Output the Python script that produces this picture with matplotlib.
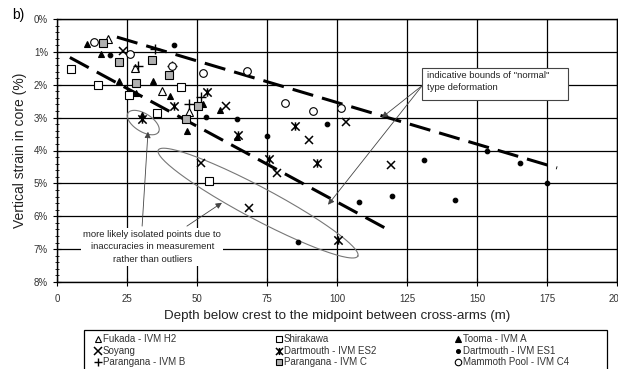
import numpy as np
import matplotlib.pyplot as plt
from matplotlib.path import Path
from matplotlib.lines import Line2D
from matplotlib.patches import Rectangle

plt.rcParams['font.family'] = ['Liberation Sans', 'DejaVu Sans']

# 各系列數據 (深度 m, 垂直應變 %)
fukada_x = [18.2, 27.9, 37.5, 47.1]
fukada_y = [0.61, 1.49, 2.19, 2.83]
shirakawa_x = [5, 14.6, 25.7, 35.7, 44.3, 54.4]
shirakawa_y = [1.52, 2.0, 2.31, 2.86, 2.07, 4.93]
tooma_x = [10.7, 15.7, 22.1, 28.2, 34.3, 40.4, 46.4, 52, 58.2, 64.4, 30.4]
tooma_y = [0.76, 1.06, 1.88, 2.25, 1.88, 2.34, 3.4, 2.6, 2.77, 3.6, 2.92]
soyang_x = [23.6, 60.4, 90, 103.2, 119.3, 78.6, 51.4, 68.6]
soyang_y = [0.97, 2.64, 3.68, 3.13, 4.44, 4.68, 4.38, 5.75]
es2_x = [30.4, 41.8, 53.6, 64.8, 85, 75.7, 92.8, 100.4]
es2_y = [3.05, 2.64, 2.22, 3.53, 3.25, 4.25, 4.38, 6.72]
es1_x = [18.9, 41.8, 53.2, 64.3, 75, 96.4, 108, 119.6, 131, 142, 153.6, 165.4, 175, 86]
es1_y = [1.09, 0.79, 2.98, 3.04, 3.56, 3.2, 5.57, 5.37, 4.3, 5.5, 4.0, 4.38, 5.0, 6.78]
parb_x = [29, 35, 41, 47.1, 51.4]
parb_y = [1.43, 0.91, 1.43, 2.6, 2.37]
parc_x = [16.4, 22.1, 28.2, 34, 40, 46, 50.4]
parc_y = [0.73, 1.31, 1.95, 1.25, 1.7, 3.04, 2.64]
mammoth_x = [13.2, 26, 41, 52.1, 67.9, 81.4, 91.4, 101.4]
mammoth_y = [0.7, 1.06, 1.43, 1.64, 1.58, 2.55, 2.8, 2.71]

# 界限虛線
upper_x = [21.4, 178.6]
upper_y = [0.55, 4.53]
lower_x = [4.6, 119.6]
lower_y = [1.17, 6.47]

x_ticks = [0, 25, 50, 75, 100, 125, 150, 175, 200]
y_ticks = [0, 1, 2, 3, 4, 5, 6, 7, 8]

# 星號 (X 加豎線)
star = Path([(0, -1), (0, 1), (-1, -1), (1, 1), (-1, 1), (1, -1)],
            [Path.MOVETO, Path.LINETO, Path.MOVETO, Path.LINETO, Path.MOVETO, Path.LINETO])

W, H = 618, 369
fig = plt.figure(figsize=(W / 100, H / 100), dpi=100)
ax = fig.add_axes([57 / W, 1 - 282 / H, 560 / W, 263 / H])

# 圖例按行排列: 名稱, 數據, 樣式
series = [
    ('Fukada - IVM H2', fukada_x, fukada_y, dict(marker='^', mfc='white', mec='black', ms=5.5, mew=0.8)),
    ('Shirakawa', shirakawa_x, shirakawa_y, dict(marker='s', mfc='white', mec='black', ms=5.5, mew=0.8)),
    ('Tooma - IVM A', tooma_x, tooma_y, dict(marker='^', mfc='black', mec='black', ms=5, mew=0.8)),
    ('Soyang', soyang_x, soyang_y, dict(marker='x', mec='black', ms=6, mew=1.1)),
    ('Dartmouth - IVM ES2', es2_x, es2_y, dict(marker=star, mec='black', ms=6, mew=1.1)),
    ('Dartmouth - IVM ES1', es1_x, es1_y, dict(marker='o', mfc='black', mec='black', ms=3.3, mew=0.8)),
    ('Parangana - IVM B', parb_x, parb_y, dict(marker='+', mec='black', ms=7, mew=1.0)),
    ('Parangana - IVM C', parc_x, parc_y, dict(marker='s', mfc='#b0b0b0', mec='black', ms=5.5, mew=0.8)),
    ('Mammoth Pool - IVM C4', mammoth_x, mammoth_y, dict(marker='o', mfc='white', mec='black', ms=5.5, mew=0.8)),
]

for name, xs, ys, st in series:
    ax.plot(xs, ys, linestyle='none', zorder=4, label=name, **st)

ax.plot(upper_x, upper_y, color='black', lw=2.2, dashes=(7, 3), zorder=3)
ax.plot(lower_x, lower_y, color='black', lw=2.2, dashes=(7, 3), zorder=3)

ax.set_xlim(0, 200)
ax.set_ylim(8, 0)
ax.set_xticks(x_ticks)
ax.set_yticks(y_ticks)
ax.set_yticks(np.arange(0, 8.01, 0.2), minor=True)
ax.set_yticklabels([f'{v}%' for v in y_ticks])
ax.grid(True, color='black', lw=0.9)
ax.set_axisbelow(True)
for s in ax.spines.values():
    s.set_linewidth(1.0)
ax.tick_params(axis='both', which='major', labelsize=7, labelcolor='#333333', direction='inout', length=6)
ax.tick_params(axis='y', which='minor', direction='inout', length=3)
ax.tick_params(axis='x', pad=6)
ax.set_xlabel('Depth below crest to the midpoint between cross-arms (m)', fontsize=9.6, labelpad=4, color='#222222')
ax.set_ylabel('Vertical strain in core (%)', fontsize=10, labelpad=5, color='#222222')
fig.text(12 / W, 1 - 15 / H, 'b)', fontsize=10, va='center', ha='left')

# 橢圓 (以螢幕像素定義)
pxx = 560 / 200
pxy = 263 / 8

def ellipse(cx, cy, a, b, ang):
    t = np.linspace(0, 2 * np.pi, 200)
    th = np.radians(ang)
    dx = a * np.cos(t) * np.cos(th) - b * np.sin(t) * np.sin(th)
    dy = a * np.cos(t) * np.sin(th) + b * np.sin(t) * np.cos(th)
    ax.plot(cx + dx / pxx, cy + dy / pxy, color='#777777', lw=0.8, zorder=2)

ellipse(30.8, 3.15, 18, 9, 32)
ellipse(71.8, 5.6, 113, 16, 28)

# 注釋
ax.text(34, 6.93, 'more likely isolated points due to\ninaccuracies in measurement\nrather than outliers',
        fontsize=6.8, ha='center', va='center', linespacing=1.5, color='#222222', zorder=5,
        bbox=dict(facecolor='white', edgecolor='none', pad=1.5))
ap = dict(arrowstyle='-|>', lw=0.6, color='#444444', mutation_scale=9, shrinkA=0, shrinkB=0)
ax.annotate('', xy=(32.5, 3.43), xytext=(30.4, 6.3), arrowprops=ap, zorder=5)
ax.annotate('', xy=(58.9, 5.59), xytext=(46.4, 6.3), arrowprops=ap, zorder=5)
ax.annotate('', xy=(116, 3.0), xytext=(130.5, 2.02), arrowprops=ap, zorder=5)
ax.annotate('', xy=(96.8, 5.65), xytext=(130.5, 2.02), arrowprops=ap, zorder=5)
ax.add_patch(Rectangle((130.5, 1.48), 52, 0.98, facecolor='white', edgecolor='#444444', lw=0.8, zorder=5))
ax.text(132, 1.57, 'indicative bounds of "normal"\ntype deformation', fontsize=6.8, ha='left', va='top',
        linespacing=1.55, color='#222222', zorder=6)

# 圖例 (手動排版)
fig.add_artist(Rectangle((84 / W, -0.01), (607 - 84) / W, (369 - 330) / H + 0.01,
                         transform=fig.transFigure, facecolor='white', edgecolor='black', lw=0.9))
col_x = [98, 279, 458]
row_y = [339, 351, 362]
for i, (name, xs, ys, st) in enumerate(series):
    px, py = col_x[i % 3], row_y[i // 3]
    st2 = dict(st)
    st2['ms'] = st2['ms'] * 0.85
    fig.add_artist(Line2D([px / W], [1 - py / H], transform=fig.transFigure, linestyle='none', **st2))
    fig.text((px + 5) / W, 1 - py / H, name, fontsize=7, color='#333333', va='center', ha='left')

fig.savefig('out.png', dpi=100)
